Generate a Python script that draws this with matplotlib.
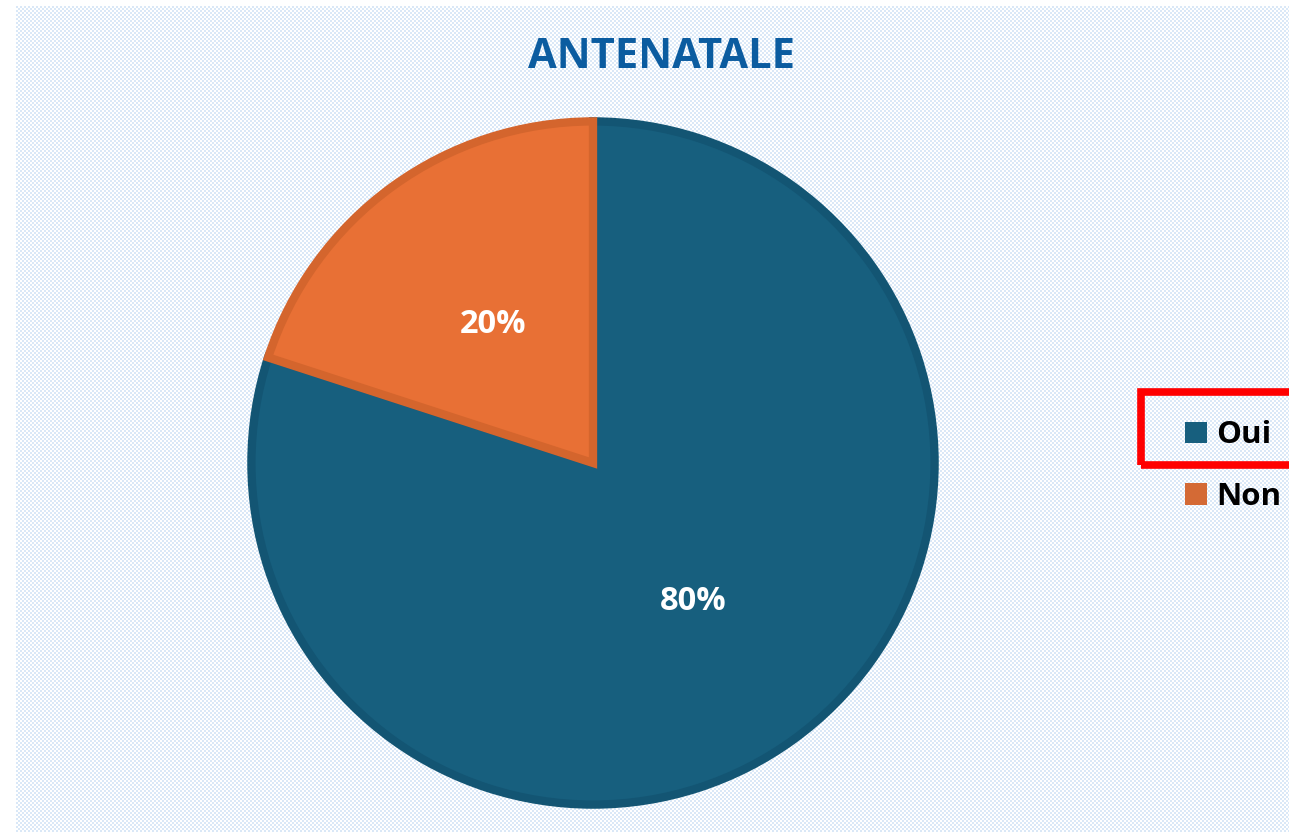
import numpy as np
import matplotlib
matplotlib.use("Agg")
import matplotlib.pyplot as plt
from matplotlib.patches import Patch, Rectangle

labels = ["Oui", "Non"]
values = [80, 20]
colors = ["#175F7E", "#E87035"]
edge_colors = ["#135573", "#D4652D"]
title = "ANTENATALE"

W, H = 1289, 835
fig = plt.figure(figsize=(W / 100, H / 100), dpi=100)
fig.patch.set_facecolor("white")

# checkered light-blue background of the chart area
cell = 2
yy, xx = np.mgrid[0:H, 0:W]
check = ((xx // cell + yy // cell) % 2).astype(bool)
bg = np.ones((H, W, 3))
bg[check] = np.array([0xDA, 0xE8, 0xF7]) / 255.0
bg[:, :16] = 1.0
bg[:6, :] = 1.0
bg[H - 3:, :] = 1.0
fig.figimage(bg, xo=0, yo=0, zorder=-10)

cx, cy, r = 593, 463, 345
ax = fig.add_axes([(cx - r) / W, (H - cy - r) / H, 2 * r / W, 2 * r / H])
ax.set_zorder(2)
ax.set_facecolor("none")
wedges, texts, autotexts = ax.pie(
    values, colors=colors, startangle=90, counterclock=False,
    autopct="%d%%", pctdistance=0.5, radius=1,
    wedgeprops=dict(linewidth=6),
    textprops=dict(color="white", fontsize=23.5, fontweight="bold",
                   family="Open Sans"))
for w, ec in zip(wedges, edge_colors):
    w.set_edgecolor(ec)
ax.set_xlim(-1.01, 1.01)
ax.set_ylim(-1.01, 1.01)
ax.set_aspect("equal")

fig.text(661 / W, 1 - 58 / H, title, ha="center", va="center",
         fontsize=30, fontweight="bold", color="#0B5CA0", family="Open Sans",
         zorder=3)

handles = [Patch(facecolor=c, edgecolor="none") for c in ["#175F7E", "#D46A35"]]
leg = fig.legend(handles, labels, loc="center left",
                 bbox_to_anchor=(1157 / W, 1 - 466 / H), frameon=False,
                 prop=dict(family="Open Sans", weight="bold", size=22.5),
                 handlelength=0.7, handleheight=0.7, handletextpad=0.3,
                 labelspacing=1.0)
leg.set_zorder(3)

fig.patches.append(Rectangle((1141 / W, 1 - 465 / H), 160 / W, 73 / H,
                             transform=fig.transFigure, fill=False,
                             edgecolor="#FF0000", linewidth=5.5, zorder=5))

fig.savefig("out.png", dpi=100)
